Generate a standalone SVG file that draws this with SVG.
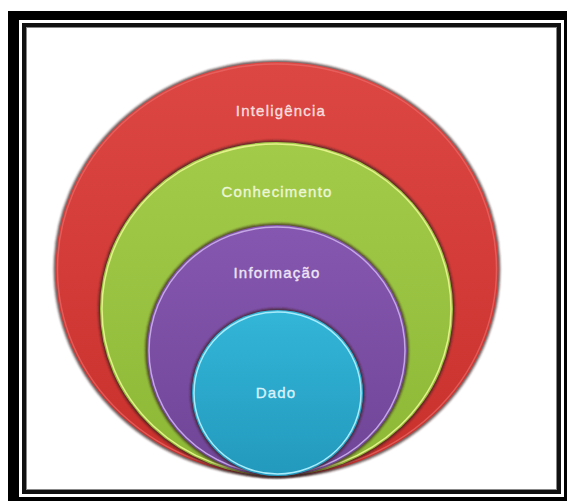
<svg xmlns="http://www.w3.org/2000/svg" width="567" height="501" viewBox="0 0 567 501">
  <defs>
    <linearGradient id="gRed" x1="0" y1="0" x2="0" y2="1">
      <stop offset="0" stop-color="#dd4743"/>
      <stop offset="1" stop-color="#c8302c"/>
    </linearGradient>
    <linearGradient id="gGreen" x1="0" y1="0" x2="0" y2="1">
      <stop offset="0" stop-color="#a3cb4a"/>
      <stop offset="1" stop-color="#8cb836"/>
    </linearGradient>
    <linearGradient id="gPurple" x1="0" y1="0" x2="0" y2="1">
      <stop offset="0" stop-color="#8657b0"/>
      <stop offset="1" stop-color="#6f4597"/>
    </linearGradient>
    <linearGradient id="gCyan" x1="0" y1="0" x2="0" y2="1">
      <stop offset="0" stop-color="#33b6d8"/>
      <stop offset="1" stop-color="#2299bd"/>
    </linearGradient>
    <filter id="soft" x="-5%" y="-5%" width="110%" height="110%">
      <feGaussianBlur stdDeviation="1.2"/>
    </filter>
  </defs>
  <style>
    .shadow { fill: none; stroke: #3a1f1f; stroke-opacity: 0.75; stroke-width: 3.5; }
    .rim { fill: none; stroke-width: 1.5; }
    .lbl { font-family: "Liberation Sans", Arial, sans-serif; font-size: 15px; letter-spacing: 1.2px; text-anchor: middle; stroke-width: 0.35px; }
  </style>
  <rect x="0" y="0" width="567" height="501" fill="#ffffff"/>
  <g id="frame">
    <rect x="8" y="11" width="559" height="490" fill="#000000"/>
    <rect x="19" y="20" width="545" height="477" fill="#ffffff"/>
    <rect x="24" y="25" width="535" height="467" fill="#ffffff" stroke="#111111" stroke-width="4"/>
    <rect x="26.5" y="27.5" width="530" height="462" fill="none" stroke="#888888" stroke-width="1"/>
  </g>
  <g id="inteligencia">
    <ellipse class="shadow" cx="277" cy="269" rx="221.5" ry="207" filter="url(#soft)" stroke="#4a1a1a"/>
    <ellipse cx="277" cy="269" rx="221.5" ry="207" fill="url(#gRed)"/>
    <ellipse class="rim" cx="277" cy="269" rx="219.5" ry="205" stroke="#ea6a66" stroke-opacity="0.7"/>
    <text class="lbl" x="281" y="116" fill="#f7dede" stroke="#f7dede">Inteligência</text>
  </g>
  <g id="conhecimento">
    <ellipse class="shadow" cx="276.5" cy="309" rx="176.5" ry="167" filter="url(#soft)" stroke="#4a3a1a"/>
    <ellipse cx="276.5" cy="309" rx="176.5" ry="167" fill="url(#gGreen)"/>
    <ellipse class="rim" cx="276.5" cy="309" rx="174.5" ry="165" stroke="#e4f28a"/>
    <text class="lbl" x="277" y="197" fill="#ecf6d8" stroke="#ecf6d8">Conhecimento</text>
  </g>
  <g id="informacao">
    <ellipse class="shadow" cx="277" cy="350.5" rx="130" ry="125.5" filter="url(#soft)" stroke="#2a1a3a"/>
    <ellipse cx="277" cy="350.5" rx="130" ry="125.5" fill="url(#gPurple)"/>
    <ellipse class="rim" cx="277" cy="350.5" rx="128" ry="123.5" stroke="#c4a6e6"/>
    <text class="lbl" x="277" y="278" fill="#eee6f6" stroke="#eee6f6">Informação</text>
  </g>
  <g id="dado">
    <ellipse class="shadow" cx="277.5" cy="393" rx="85.5" ry="83" filter="url(#soft)" stroke="#102a3a"/>
    <ellipse cx="277.5" cy="393" rx="85.5" ry="83" fill="url(#gCyan)"/>
    <ellipse class="rim" cx="277.5" cy="393" rx="83.5" ry="81" stroke="#a8ecfb"/>
    <text class="lbl" x="276" y="398" fill="#d8f2fb" stroke="#d8f2fb">Dado</text>
  </g>
  <g id="connectors"/>
</svg>
